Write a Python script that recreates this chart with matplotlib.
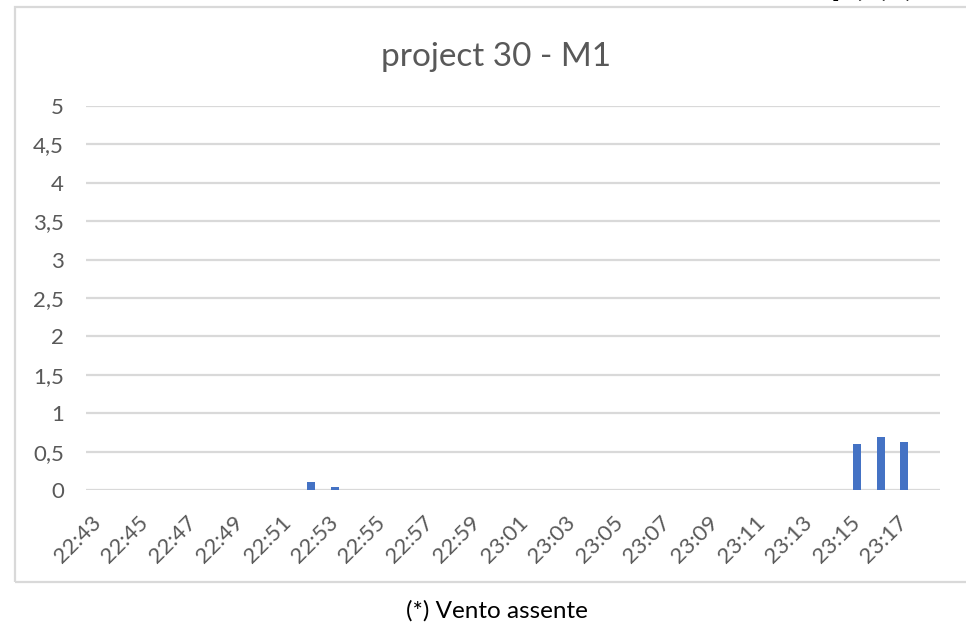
import numpy as num
import matplotlib
matplotlib.use('Agg')
import matplotlib.pyplot as plt
from matplotlib.patches import Rectangle
from matplotlib.ticker import FuncFormatter, MultipleLocator


# one sample per minute, 22:43 .. 23:18
times = [
    '22:43', '22:44', '22:45', '22:46', '22:47', '22:48', '22:49', '22:50',
    '22:51', '22:52', '22:53', '22:54', '22:55', '22:56', '22:57', '22:58',
    '22:59', '23:00', '23:01', '23:02', '23:03', '23:04', '23:05', '23:06',
    '23:07', '23:08', '23:09', '23:10', '23:11', '23:12', '23:13', '23:14',
    '23:15', '23:16', '23:17', '23:18']
values = [
    0., 0., 0., 0., 0., 0., 0., 0.,
    0., 0.11, 0.04, 0., 0., 0., 0., 0.,
    0., 0., 0., 0., 0., 0., 0., 0.,
    0., 0., 0., 0., 0., 0., 0., 0.,
    0.60, 0.69, 0.62, 0.]

title = 'project 30 - M1'
caption = '(*) Vento assente'

grey = '#595959'
grid = '#d9d9d9'
blue = '#4472c4'

plt.rcParams['font.family'] = ['Lato', 'DejaVu Sans']

W, H = 966., 625.
fig = plt.figure(figsize=(W / 100., H / 100.), dpi=100)

# chart frame (runs off the right edge like the screenshot)
fig.patches.append(Rectangle(
    (15. / W, (H - 582.) / H), 1.2, (582. - 7.) / H,
    transform=fig.transFigure, facecolor='none', edgecolor=grid,
    linewidth=1.6, clip_on=False))

ax = fig.add_axes([86. / W, (H - 490.) / H, (940. - 86.) / W,
                   (490. - 106.) / H])

x = num.arange(len(times))
ax.bar(x, values, width=0.34, color=blue, zorder=3)

ax.set_xlim(-0.5, len(times) - 0.5)
ax.set_ylim(0., 5.)
ax.yaxis.set_major_locator(MultipleLocator(0.5))
ax.yaxis.set_major_formatter(FuncFormatter(
    lambda v, p: ('%g' % v).replace('.', ',')))
ax.grid(axis='y', color=grid, linewidth=1.6, zorder=0)
ax.set_axisbelow(True)

ax.set_xticks(x[::2])
ax.set_xticklabels(times[::2], rotation=45, ha='right', va='center',
                   rotation_mode='anchor')

for s in ax.spines.values():
    s.set_visible(False)

ax.tick_params(axis='y', length=0, pad=16, labelsize=16, labelcolor=grey)
ax.tick_params(axis='x', length=0, pad=21, labelsize=16, labelcolor=grey)

fig.text(496. / W, (H - 57.) / H, title, ha='center', va='center',
         fontsize=24, color=grey)
fig.text(497. / W, (H - 611.) / H, caption, ha='center', va='center',
         fontsize=17.5, color='black')

# bold heading of the page, cut off at the top of the screenshot
fig.text(831. / W, 1. + 5. / H, 'p(*) (', ha='left', va='baseline',
         fontsize=28, fontweight='bold', color='black')

fig.savefig('out.png', dpi=100)
